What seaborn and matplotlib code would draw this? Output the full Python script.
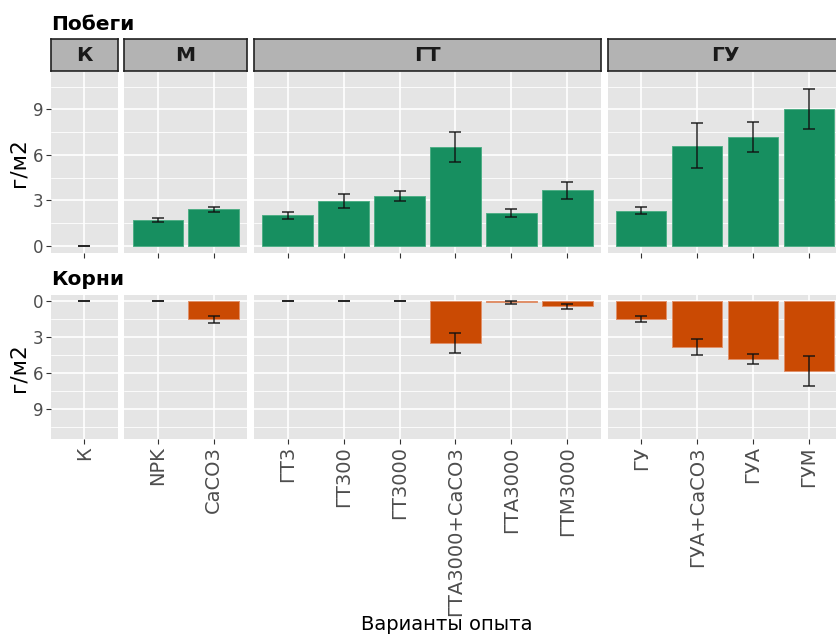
import numpy as np
import pandas as pd
import matplotlib
matplotlib.use("Agg")
import matplotlib.pyplot as plt
from matplotlib.ticker import FixedLocator
import seaborn as sns

# ---- data (г/м2, mean ± standard error) ----
groups = ["К", "М", "ГТ", "ГУ"]
variants = ["К", "NPK", "CaCO3", "ГТ3", "ГТ300", "ГТ3000", "ГТА3000+CaCO3",
            "ГТА3000", "ГТМ3000", "ГУ", "ГУА+CaCO3", "ГУА", "ГУМ"]
variant_group = ["К", "М", "М", "ГТ", "ГТ", "ГТ", "ГТ", "ГТ", "ГТ",
                 "ГУ", "ГУ", "ГУ", "ГУ"]
shoots_mean = [0.0, 1.67, 2.40, 2.00, 2.95, 3.28, 6.51, 2.16, 3.65, 2.31, 6.60, 7.17, 9.02]
shoots_se = [0.0, 0.13, 0.16, 0.24, 0.44, 0.36, 0.99, 0.25, 0.54, 0.23, 1.50, 0.98, 1.35]
roots_mean = [0.0, 0.0, 1.48, 0.0, 0.0, 0.0, 3.46, 0.08, 0.42, 1.48, 3.79, 4.79, 5.85]
roots_se = [0.0, 0.0, 0.29, 0.0, 0.0, 0.0, 0.85, 0.11, 0.23, 0.27, 0.68, 0.42, 1.25]

df = pd.DataFrame({
    "variant": variants,
    "group": variant_group,
    "shoots": shoots_mean,
    "shoots_se": shoots_se,
    "roots": roots_mean,
    "roots_se": roots_se,
})

GREEN = "#178F60"
GREEN_EDGE = "#4FAE86"
ORANGE = "#CA4A03"
ORANGE_EDGE = "#E0906A"
PANEL_BG = "#E5E5E5"

sns.set_style("white")
plt.rcParams["font.family"] = ["DejaVu Sans"]

W, H = 837, 634
fig = plt.figure(figsize=(W / 100, H / 100), dpi=100)


def fx(px):
    return px / W


def fy(px):
    return 1 - px / H


# facet columns: left/right edges in pixels (widths follow the number of variants)
col_px = [(50.7, 117.7), (124.3, 247.0), (254.0, 601.0), (607.7, 842.5)]
top_row = (71.7, 253.3)
bot_row = (295.0, 439.3)
strip_row = (39.0, 70.7)


def make_axes(row):
    axes = []
    for (x0, x1) in col_px:
        ax = fig.add_axes([fx(x0), fy(row[1]), fx(x1) - fx(x0), fy(row[0]) - fy(row[1])])
        axes.append(ax)
    return axes


def draw_row(axes, col, col_se, color, edge, ylim, show_xlabels):
    for i, (ax, g) in enumerate(zip(axes, groups)):
        sub = df[df["group"] == g].reset_index(drop=True)
        n = len(sub)
        sns.barplot(data=sub, x="variant", y=col, order=list(sub["variant"]),
                    color=color, width=0.9, saturation=1, errorbar=None,
                    edgecolor=edge, linewidth=0.7, ax=ax)
        # empty (zero) bars leave no outline behind
        for p in ax.patches:
            if p.get_height() == 0:
                p.set_visible(False)
        ax.errorbar(np.arange(n), sub[col], yerr=sub[col_se], fmt="none",
                    ecolor="#111111", elinewidth=1.1, capsize=4.2, capthick=1.1,
                    alpha=0.9, zorder=4)
        ax.set_xlim(-0.6, n - 0.4)
        ax.set_ylim(*ylim)
        ax.set_facecolor(PANEL_BG)
        for s in ax.spines.values():
            s.set_visible(False)
        ax.yaxis.set_major_locator(FixedLocator([0, 3, 6, 9]))
        ax.yaxis.set_minor_locator(FixedLocator([1.5, 4.5, 7.5, 10.5]))
        ax.set_axisbelow(True)
        ax.grid(which="major", color="white", linewidth=1.2)
        ax.grid(which="minor", axis="y", color="white", linewidth=0.6)
        ax.set_xlabel("")
        ax.set_ylabel("")
        ax.tick_params(axis="both", which="major", length=3.5, width=0.8,
                       color="#333333", labelcolor="#4D4D4D")
        ax.tick_params(axis="both", which="minor", length=0)
        ax.tick_params(axis="y", labelsize=12, pad=1.5)
        ax.tick_params(axis="x", labelsize=14, pad=1.5, bottom=True)
        if i > 0:
            ax.tick_params(axis="y", left=False, labelleft=False)
        else:
            ax.tick_params(axis="y", left=True, labelleft=True)
        if show_xlabels:
            ax.set_xticks(np.arange(n))
            ax.set_xticklabels(list(sub["variant"]), rotation=90, ha="center", va="top")
        else:
            ax.tick_params(axis="x", labelbottom=False)


top_axes = make_axes(top_row)
bot_axes = make_axes(bot_row)

draw_row(top_axes, "shoots", "shoots_se", GREEN, GREEN_EDGE, (-0.5, 11.48), False)
draw_row(bot_axes, "roots", "roots_se", ORANGE, ORANGE_EDGE, (11.53, -0.53), True)

# facet strips above the upper row
for (x0, x1), g in zip(col_px, groups):
    sax = fig.add_axes([fx(x0), fy(strip_row[1]), fx(x1) - fx(x0), fy(strip_row[0]) - fy(strip_row[1])])
    sax.set_facecolor("#B3B3B3")
    sax.set_xticks([])
    sax.set_yticks([])
    for s in sax.spines.values():
        s.set_color("#222222")
        s.set_linewidth(1.2)
    sax.text(0.5, 0.48, g, transform=sax.transAxes, ha="center", va="center",
             fontsize=14.5, fontweight="bold", color="#1A1A1A")

# row titles
fig.text(fx(50.7), fy(29.5), "Побеги", fontsize=14.5, fontweight="bold",
         ha="left", va="baseline", color="black")
fig.text(fx(50.7), fy(285.0), "Корни", fontsize=14.5, fontweight="bold",
         ha="left", va="baseline", color="black")

# axis titles
fig.text(fx(18.5), fy((top_row[0] + top_row[1]) / 2), "г/м2", rotation=90,
         fontsize=15.5, ha="center", va="center", color="black")
fig.text(fx(18.5), fy((bot_row[0] + bot_row[1]) / 2), "г/м2", rotation=90,
         fontsize=15.5, ha="center", va="center", color="black")
fig.text(fx((col_px[0][0] + col_px[-1][1]) / 2), fy(629.5), "Варианты опыта",
         fontsize=14, ha="center", va="baseline", color="black")

fig.savefig("out.png", dpi=100)
